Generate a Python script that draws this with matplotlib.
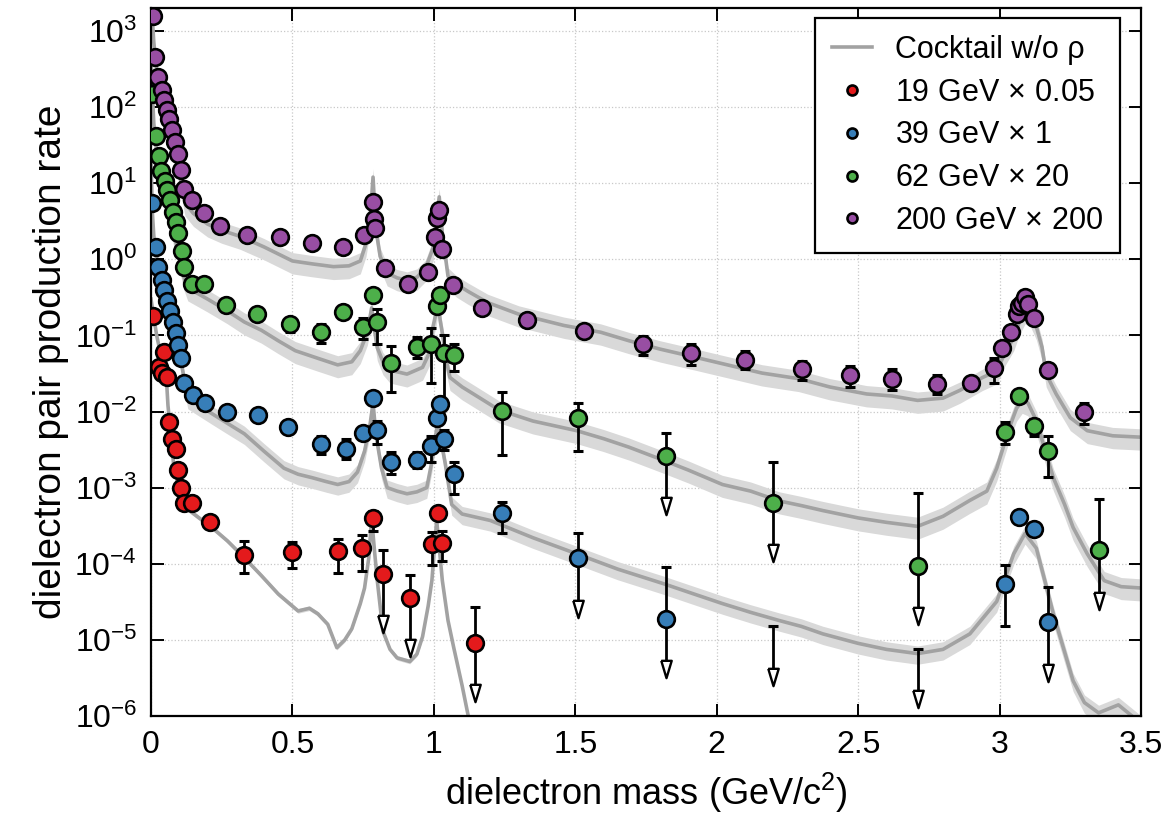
"""Dielectron pair production rate vs mass, four beam energies + cocktail."""
import matplotlib
matplotlib.use("Agg")
import matplotlib.pyplot as plt
import matplotlib.ticker as mticker
import numpy as np

plt.rcParams["font.family"] = ["Liberation Sans", "DejaVu Sans"]
plt.rcParams["mathtext.fontset"] = "custom"
plt.rcParams["mathtext.rm"] = "Liberation Sans"
plt.rcParams["mathtext.it"] = "Liberation Sans:italic"
plt.rcParams["mathtext.bf"] = "Liberation Sans:bold"

# ── cocktail w/o rho (already scaled) ────────────────────────────────────────
ck200_x = [0.0, 0.005, 0.01, 0.02, 0.04, 0.06, 0.08, 0.1, 0.12, 0.15, 0.2, 0.25, 0.315, 0.4, 0.5,
           0.57, 0.645, 0.7, 0.74, 0.76, 0.775, 0.785, 0.795, 0.81, 0.835, 0.87, 0.905, 0.94, 0.97,
           0.997, 1.008, 1.019, 1.03, 1.05, 1.08, 1.12, 1.19, 1.3, 1.46, 1.59, 1.69, 1.8, 1.93,
           2.05, 2.16, 2.29, 2.4, 2.53, 2.62, 2.71, 2.8, 2.86, 2.94, 2.99, 3.02, 3.05, 3.07, 3.09,
           3.11, 3.13, 3.15, 3.165, 3.2, 3.25, 3.31, 3.4, 3.5]
ck200_y = [3000, 1400, 700, 300, 140, 70, 30, 14, 5.5, 4.0, 2.9, 2.4, 2.0, 1.45, 0.95,
           0.87, 0.8, 0.82, 0.95, 1.6, 3.5, 12, 2.5, 1.1, 0.66, 0.57, 0.53, 0.58, 0.75,
           1.4, 3.0, 6.6, 2.2, 0.6, 0.47, 0.38, 0.27, 0.19, 0.135, 0.11, 0.085, 0.066, 0.051,
           0.040, 0.032, 0.027, 0.021, 0.017, 0.016, 0.014, 0.015, 0.019, 0.028, 0.034, 0.06, 0.093,
           0.15, 0.21, 0.19, 0.13, 0.07, 0.031, 0.017, 0.0083, 0.0056, 0.0048, 0.0046]

ck62_x = [0.0, 0.005, 0.01, 0.02, 0.04, 0.06, 0.08, 0.1, 0.115, 0.13, 0.2, 0.27, 0.33, 0.39, 0.45,
          0.51, 0.59, 0.66, 0.71, 0.74, 0.765, 0.78, 0.79, 0.80, 0.82, 0.845, 0.905, 0.96, 0.985,
          0.997, 1.008, 1.015, 1.022, 1.03, 1.045, 1.057, 1.1, 1.14, 1.23, 1.35, 1.505, 1.6, 1.69,
          1.81, 1.9, 2.02, 2.12, 2.22, 2.3, 2.375, 2.5, 2.6, 2.71, 2.8, 2.895, 2.955, 2.99, 3.035,
          3.06, 3.08, 3.1, 3.13, 3.16, 3.19, 3.23, 3.26, 3.31, 3.37, 3.43, 3.5]
ck62_y = [500, 150, 60, 25, 10, 5, 2.2, 1.1, 0.6, 0.42, 0.3, 0.21, 0.15, 0.117, 0.085,
          0.063, 0.05, 0.041, 0.045, 0.063, 0.11, 0.23, 0.12, 0.069, 0.045, 0.035, 0.031, 0.038, 0.06,
          0.13, 0.2, 0.29, 0.16, 0.107, 0.045, 0.028, 0.021, 0.017, 0.0105, 0.0075, 0.0056, 0.0044,
          0.0034, 0.0023, 0.0017, 0.0011, 0.0009, 0.00067, 0.00058, 0.0005, 0.0004, 0.00035, 0.00031,
          0.00042, 0.00068, 0.0009, 0.0018, 0.0062, 0.011, 0.014, 0.013, 0.0076, 0.0032, 0.00135,
          0.0006, 0.0003, 0.000135, 6e-5, 5e-5, 4.8e-5]

ck39_x = [0.0, 0.005, 0.01, 0.02, 0.04, 0.06, 0.08, 0.1, 0.115, 0.13, 0.17, 0.215, 0.27, 0.33, 0.4,
          0.47, 0.52, 0.57, 0.62, 0.66, 0.7, 0.73, 0.755, 0.775, 0.785, 0.795, 0.815, 0.835, 0.87,
          0.905, 0.94, 0.975, 0.993, 1.005, 1.015, 1.025, 1.04, 1.063, 1.1, 1.2, 1.35, 1.505, 1.65,
          1.81, 1.92, 2.02, 2.12, 2.22, 2.3, 2.375, 2.5, 2.6, 2.71, 2.8, 2.895, 2.99, 3.05, 3.09,
          3.13, 3.16, 3.19, 3.26, 3.3, 3.35, 3.42, 3.5]
ck39_y = [20, 4, 2, 1.0, 0.5, 0.25, 0.13, 0.06, 0.03, 0.015, 0.012, 0.0094, 0.007, 0.0051, 0.003,
          0.0018, 0.0015, 0.00135, 0.0012, 0.0011, 0.0012, 0.0016, 0.003, 0.007, 0.013, 0.005, 0.0018,
          0.001, 0.0009, 0.00083, 0.00088, 0.001, 0.0022, 0.0045, 0.0076, 0.0042, 0.0021, 0.0006,
          0.00045, 0.00037, 0.00022, 0.000135, 8.5e-5, 5.5e-5, 4e-5, 3e-5, 2.3e-5, 1.8e-5, 1.5e-5,
          1.2e-5, 9e-6, 7.5e-6, 6.6e-6, 7.5e-6, 1.2e-5, 3.2e-5, 0.000135, 0.00025, 0.00016, 6e-5,
          2.2e-5, 2.9e-6, 1.5e-6, 1.1e-6, 1.4e-6, 8e-7]

ck19_x = [0.0, 0.02, 0.04, 0.055, 0.06, 0.07, 0.08, 0.1, 0.11, 0.13, 0.17, 0.215, 0.27, 0.33, 0.39,
          0.45, 0.52, 0.56, 0.59, 0.625, 0.657, 0.685, 0.71, 0.74, 0.755, 0.77, 0.78, 0.79, 0.80,
          0.82, 0.845, 0.87, 0.915, 0.94, 0.96, 0.98, 0.993, 1.01, 1.03, 1.05, 1.07, 1.1, 1.12, 1.14]
ck19_y = [0.3, 0.1, 0.045, 0.025, 0.012, 0.005, 0.002, 0.0009, 0.00065, 0.00052, 0.0004, 0.0003,
          0.0002, 0.00012, 7e-5, 4e-5, 2.4e-5, 2.6e-5, 2.2e-5, 1.6e-5, 7.9e-6, 1.0e-5, 1.4e-5, 3e-5,
          4.8e-5, 0.00012, 0.0004, 0.00015, 6e-5, 1.3e-5, 7.5e-6, 5.8e-6, 5.2e-6, 6.5e-6, 1.1e-5,
          2.8e-5, 6e-5, 0.00037, 6e-5, 1.8e-5, 8e-6, 2.5e-6, 1.07e-6, 5e-7]

# band half widths in decades (down, up)
ck_band = {"200": (0.17, 0.11), "62": (0.17, 0.12), "39": (0.14, 0.10), "19": (0.03, 0.03)}

# ── data points: x, y, error-bar low/high end (nan = none), upper limit flag ─
nan = np.nan

d19_x = [0.0, 0.008, 0.028, 0.039, 0.046, 0.057, 0.064, 0.074, 0.088, 0.095, 0.106, 0.117, 0.145,
         0.208, 0.33, 0.50, 0.66, 0.745, 0.785, 0.82, 0.915, 0.995, 1.015, 1.03, 1.145]
d19_y = [0.18, 0.18, 0.039, 0.032, 0.06, 0.028, 0.0072, 0.0044, 0.0032, 0.0017, 0.001, 0.00062,
         0.00062, 0.00035, 1.31e-4, 1.44e-4, 1.45e-4, 1.6e-4, 4.0e-4, 7.4e-5, 3.6e-5, 1.8e-4,
         4.6e-4, 1.9e-4, 9.1e-6]
d19_lo = [nan] * 14 + [7.6e-5, 8.9e-5, 7.6e-5, 8e-5, 2.7e-4, nan, nan, 9.5e-5, nan, 1.1e-4, nan]
d19_hi = [nan] * 14 + [2.0e-4, 1.95e-4, 2.1e-4, 2.4e-4, 5e-4, 1.5e-4, 7.2e-5, 2.6e-4, nan, 2.7e-4, 2.7e-5]
d19_lim = [0] * 19 + [1, 1, 0, 0, 0, 1]

d39_x = [0.004, 0.018, 0.025, 0.038, 0.046, 0.057, 0.067, 0.078, 0.088, 0.095, 0.106, 0.117, 0.148,
         0.19, 0.27, 0.38, 0.485, 0.60, 0.69, 0.75, 0.785, 0.80, 0.85, 0.94, 0.99, 1.01, 1.02,
         1.035, 1.07, 1.24, 1.51, 1.82, 2.20, 2.71, 3.02, 3.07, 3.12, 3.17]
d39_y = [5.5, 1.45, 0.8, 0.53, 0.39, 0.28, 0.21, 0.15, 0.107, 0.074, 0.051, 0.024, 0.0166,
         0.0128, 0.0098, 0.0089, 0.0063, 0.0037, 0.0032, 0.0052, 0.015, 0.0057, 0.0022, 0.0023,
         0.0035, 0.0081, 0.0125, 0.0044, 0.0015, 0.00046, 0.000118, 1.9e-5, nan, nan, 5.4e-5,
         4.1e-4, 2.9e-4, 1.7e-5]
d39_lo = [nan] * 17 + [0.0028, 0.0024, nan, nan, 0.0037, 0.0015, 0.0018, 0.0022, nan, nan,
                       0.0031, 0.00082, 0.00025, nan, nan, nan, nan, 1.5e-5, nan, nan, nan]
d39_hi = [nan] * 17 + [0.0047, 0.0043, nan, nan, 0.0074, 0.0029, 0.0029, 0.0047, nan, nan,
                       0.0057, 0.0022, 0.00065, 0.00025, 9e-5, 1.5e-5, 7.6e-6, 9.5e-5, nan, nan, 4.9e-5]
d39_lim = [0] * 30 + [1, 1, 1, 1, 0, 0, 0, 1]

d62_x = [0.004, 0.018, 0.028, 0.035, 0.05, 0.057, 0.067, 0.078, 0.088, 0.095, 0.11, 0.117, 0.145,
         0.187, 0.265, 0.375, 0.49, 0.60, 0.68, 0.75, 0.785, 0.80, 0.85, 0.94, 0.99, 1.01, 1.02,
         1.035, 1.07, 1.24, 1.51, 1.82, 2.20, 2.71, 3.02, 3.07, 3.12, 3.17, 3.35]
d62_y = [148, 41.5, 23, 14.5, 10.7, 8.1, 6.0, 4.2, 3.1, 2.2, 1.28, 0.79, 0.48,
         0.47, 0.25, 0.19, 0.14, 0.11, 0.20, 0.13, 0.34, 0.15, 0.044, 0.07, 0.077, 0.24, 0.34,
         0.058, 0.056, 0.0101, 0.0081, 0.0026, 0.00063, 9.3e-5, 0.0054, 0.0159, 0.0064, 0.003, 1.5e-4]
d62_lo = [nan] * 16 + [0.11, 0.08, nan, 0.09, nan, 0.078, 0.018, 0.05, 0.024, nan, nan,
                       0.012, 0.034, 0.0027, 0.003, nan, nan, nan, 0.0037, nan, 0.0047, 0.0014, nan]
d62_hi = [nan] * 16 + [0.17, 0.14, nan, 0.17, nan, 0.22, 0.072, 0.094, 0.124, nan, nan,
                       0.10, 0.078, 0.0178, 0.0128, 0.0053, 0.0022, 8.6e-4, 0.0073, nan, 0.008, 0.0047, 7.1e-4]
d62_lim = [0] * 31 + [1, 1, 1, 0, 0, 0, 0, 1]

d200_x = [0.006, 0.014, 0.025, 0.039, 0.046, 0.057, 0.064, 0.074, 0.085, 0.095, 0.106, 0.117, 0.145,
          0.187, 0.244, 0.34, 0.456, 0.569, 0.679, 0.753, 0.785, 0.788, 0.792, 0.827, 0.908, 0.979,
          1.004, 1.01, 1.018, 1.03, 1.068, 1.17, 1.33, 1.53, 1.74, 1.91, 2.10, 2.30, 2.47, 2.62,
          2.78, 2.90, 2.98, 3.01, 3.04, 3.06, 3.07, 3.08, 3.09, 3.10, 3.12, 3.17, 3.30]
d200_y = [1580, 455, 247, 165, 123, 91, 70, 50, 35, 24, 14.8, 8.3, 6.0,
          4.1, 2.7, 2.1, 1.95, 1.62, 1.45, 2.1, 5.6, 3.4, 2.6, 0.76, 0.48, 0.69,
          1.95, 3.5, 4.4, 1.35, 0.46, 0.23, 0.16, 0.113, 0.078, 0.059, 0.047, 0.036, 0.030, 0.027,
          0.023, 0.024, 0.037, 0.068, 0.11, 0.19, 0.24, 0.27, 0.32, 0.26, 0.17, 0.035, 0.0100]
d200_lo = [nan] * 32 + [0.14, 0.098, 0.055, 0.041, 0.036, 0.026, 0.021, 0.019, 0.017, 0.021,
                        0.024, nan, nan, nan, nan, nan, nan, nan, nan, nan, 0.0069]
d200_hi = [nan] * 32 + [0.18, 0.128, 0.097, 0.078, 0.062, 0.046, 0.040, 0.036, 0.030, 0.027,
                        0.050, nan, nan, nan, nan, nan, nan, nan, nan, nan, 0.0130]
d200_lim = [0] * len(d200_x)

SERIES = [
    ("19 GeV$\\,\\times\\,$0.05", "#e41a1c", d19_x, d19_y, d19_lo, d19_hi, d19_lim),
    ("39 GeV$\\,\\times\\,$1", "#377eb8", d39_x, d39_y, d39_lo, d39_hi, d39_lim),
    ("62 GeV$\\,\\times\\,$20", "#4daf4a", d62_x, d62_y, d62_lo, d62_hi, d62_lim),
    ("200 GeV$\\,\\times\\,$200", "#984ea3", d200_x, d200_y, d200_lo, d200_hi, d200_lim),
]

LINE_GREY = "#a2a2a2"
BAND_GREY = "#d9d9d9"
ARROW_DEX = 0.74      # length of an upper-limit arrow in decades


def _cocktail(ax, xs, ys, band, label=None):
    xs = np.asarray(xs)
    ys = np.asarray(ys, dtype=float)
    dn, up = band
    ax.fill_between(xs, ys * 10 ** -dn, ys * 10 ** up, color=BAND_GREY, lw=0, zorder=1)
    ax.plot(xs, ys, color=LINE_GREY, lw=2.6, zorder=2, label=label)


# narrow open arrowhead pointing down
ARROW_HEAD = [(-0.3, 0.5), (0.3, 0.5), (0.0, -0.5), (-0.3, 0.5)]


def _points(ax, label, color, xs, ys, lo, hi, lim):
    for x, y, l, h, is_lim in zip(xs, ys, lo, hi, lim):
        if is_lim:
            start = y if not np.isnan(y) else h
            tip = start * 10 ** -ARROW_DEX
            ax.vlines(x, tip * 10 ** 0.1, h, color="k", lw=2.0, zorder=3)
            ax.plot([x], [h], marker="_", ms=7, mew=2.2, color="k", zorder=3)
            ax.plot([x], [tip * 10 ** 0.08], marker=ARROW_HEAD, ms=12.5, mfc="white",
                    mec="k", mew=1.7, ls="none", zorder=4)
        elif not (np.isnan(l) and np.isnan(h)):
            l = y if np.isnan(l) else l
            h = y if np.isnan(h) else h
            ax.errorbar([x], [y], yerr=[[y - l], [h - y]], fmt="none", ecolor="k",
                        elinewidth=2.0, capsize=3.5, capthick=2.2, zorder=3)
    ax.plot(xs, ys, ls="none", marker="o", ms=12, mfc=color, mec="k", mew=1.9,
            zorder=5, label=label)


fig = plt.figure(figsize=(11.71, 8.31), dpi=100)
ax = fig.add_axes([151 / 1171, 1 - 716 / 831, 990 / 1171, 708 / 831])

_cocktail(ax, ck19_x, ck19_y, ck_band["19"], label="Cocktail w/o \u03c1")
_cocktail(ax, ck39_x, ck39_y, ck_band["39"])
_cocktail(ax, ck62_x, ck62_y, ck_band["62"])
_cocktail(ax, ck200_x, ck200_y, ck_band["200"])

for label, color, xs, ys, lo, hi, lim in SERIES:
    _points(ax, label, color, xs, ys, lo, hi, lim)

ax.set_yscale("log")
ax.set_xlim(0, 3.5)
ax.set_ylim(1e-6, 2e3)
ax.xaxis.set_major_locator(mticker.MultipleLocator(0.5))
ax.xaxis.set_major_formatter(mticker.FuncFormatter(lambda v, _: f"{v:g}"))
ax.yaxis.set_major_locator(mticker.LogLocator(base=10, numticks=20))
ax.yaxis.set_minor_locator(mticker.NullLocator())
ax.yaxis.set_major_formatter(
    mticker.FuncFormatter(lambda v, _: r"10$^{%d}$" % int(round(np.log10(v)))))

ax.tick_params(which="major", direction="in", length=9, width=1.4,
               top=True, right=True, labelsize=23, pad=10)
ax.grid(True, which="major", color="#c8c8c8", linestyle=":", linewidth=0.9)
ax.set_axisbelow(True)
for sp in ax.spines.values():
    sp.set_linewidth(1.6)

ax.set_xlabel("dielectron mass (GeV/c$^{2}$)", fontsize=26, labelpad=8)
ax.set_ylabel("dielectron pair production rate", fontsize=28, labelpad=4)

handles, labels = ax.get_legend_handles_labels()
leg = ax.legend(handles, labels, loc="upper right", bbox_to_anchor=(0.979, 0.986),
                fontsize=22, markerscale=0.6, handlelength=1.3, handletextpad=0.75,
                borderpad=0.55, labelspacing=0.42, borderaxespad=0, fancybox=False,
                framealpha=1, edgecolor="k")
leg.get_frame().set_linewidth(1.6)

fig.savefig("out.png", dpi=100)
